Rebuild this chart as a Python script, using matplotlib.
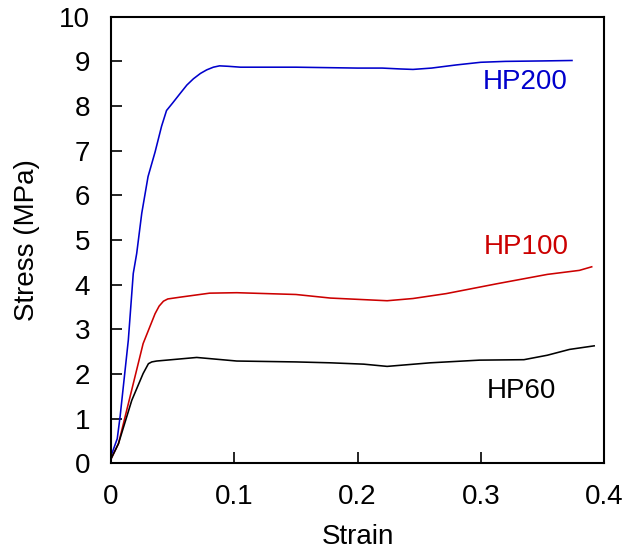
import matplotlib
matplotlib.use("Agg")
import matplotlib.pyplot as plt

plt.rcParams['font.family'] = ['Liberation Sans', 'DejaVu Sans']

# HP200 (blue)
hp200_strain = [0.0, 0.0007, 0.005, 0.0073, 0.014, 0.018, 0.0208, 0.0249, 0.030, 0.0357,
                0.041, 0.045, 0.050, 0.056, 0.0615, 0.0668, 0.0725, 0.0776, 0.083, 0.088,
                0.095, 0.105, 0.15, 0.20, 0.22, 0.235, 0.245, 0.26, 0.28, 0.30, 0.32,
                0.35, 0.374]
hp200_stress = [0.1, 0.22, 0.55, 1.04, 2.76, 4.25, 4.7, 5.6, 6.42, 6.97,
                7.55, 7.9, 8.07, 8.28, 8.47, 8.61, 8.73, 8.81, 8.87, 8.90,
                8.89, 8.87, 8.87, 8.85, 8.85, 8.83, 8.82, 8.85, 8.92, 8.98, 9.0,
                9.01, 9.02]

# HP100 (red)
hp100_strain = [0.0, 0.006, 0.0154, 0.026, 0.0357, 0.039, 0.0425, 0.046, 0.056, 0.080,
                0.102, 0.15, 0.178, 0.224, 0.245, 0.272, 0.313, 0.354, 0.38, 0.39]
hp100_stress = [0.1, 0.44, 1.49, 2.68, 3.35, 3.52, 3.63, 3.68, 3.72, 3.81,
                3.82, 3.78, 3.70, 3.64, 3.69, 3.80, 4.02, 4.23, 4.32, 4.40]

# HP60 (black)
hp60_strain = [0.0, 0.006, 0.0168, 0.026, 0.0303, 0.033, 0.037, 0.0695, 0.102, 0.15,
               0.178, 0.205, 0.224, 0.259, 0.299, 0.335, 0.354, 0.372, 0.392]
hp60_stress = [0.1, 0.44, 1.41, 2.01, 2.23, 2.27, 2.29, 2.37, 2.29, 2.27,
               2.25, 2.22, 2.17, 2.25, 2.31, 2.32, 2.42, 2.55, 2.63]

x_ticks = [0, 0.1, 0.2, 0.3, 0.4]
x_tick_labels = ["0", "0.1", "0.2", "0.3", "0.4"]
y_ticks = list(range(0, 11))

fig = plt.figure(figsize=(6.24, 5.52), dpi=100)
ax = fig.add_axes([0.178, 0.1607, 0.790, 0.809])

ax.plot(hp200_strain, hp200_stress, color='#0000CC', lw=1.15)
ax.plot(hp100_strain, hp100_stress, color='#CC0000', lw=1.15)
ax.plot(hp60_strain, hp60_stress, color='black', lw=1.15)

ax.text(0.336, 8.53, "HP200", color='#0000CC', fontsize=20, ha='center', va='center')
ax.text(0.337, 4.84, "HP100", color='#CC0000', fontsize=20, ha='center', va='center')
ax.text(0.333, 1.63, "HP60", color='black', fontsize=20, ha='center', va='center')

ax.set_xlim(0, 0.4)
ax.set_ylim(0, 10)
ax.set_xticks(x_ticks)
ax.set_xticklabels(x_tick_labels)
ax.set_yticks(y_ticks)
ax.tick_params(direction='in', length=8, width=1.2, labelsize=20, pad=15,
               top=False, right=False)
for s in ax.spines.values():
    s.set_linewidth(1.5)
    s.set_color('black')

ax.set_xlabel("Strain", fontsize=20, labelpad=10)
ax.set_ylabel("Stress (MPa)", fontsize=20, labelpad=14)

fig.savefig("out.png", dpi=100)
